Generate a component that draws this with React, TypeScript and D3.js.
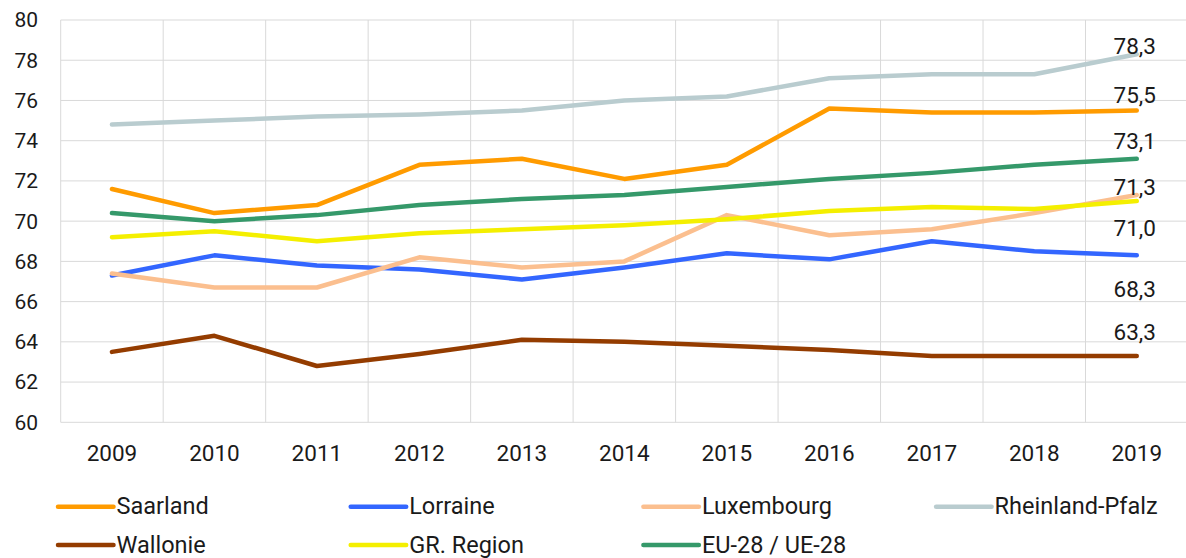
import React from "react";
import { scaleBand, scaleLinear, line } from "d3";

const years = ["2009", "2010", "2011", "2012", "2013", "2014", "2015", "2016", "2017", "2018", "2019"];
const yTicks = [60, 62, 64, 66, 68, 70, 72, 74, 76, 78, 80];

const saarland = [71.6, 70.4, 70.8, 72.8, 73.1, 72.1, 72.8, 75.6, 75.4, 75.4, 75.5];
const lorraine = [67.3, 68.3, 67.8, 67.6, 67.1, 67.7, 68.4, 68.1, 69.0, 68.5, 68.3];
const luxembourg = [67.4, 66.7, 66.7, 68.2, 67.7, 68.0, 70.3, 69.3, 69.6, 70.4, 71.3];
const rheinlandPfalz = [74.8, 75.0, 75.2, 75.3, 75.5, 76.0, 76.2, 77.1, 77.3, 77.3, 78.3];
const wallonie = [63.5, 64.3, 62.8, 63.4, 64.1, 64.0, 63.8, 63.6, 63.3, 63.3, 63.3];
const grRegion = [69.2, 69.5, 69.0, 69.4, 69.6, 69.8, 70.1, 70.5, 70.7, 70.6, 71.0];
const eu28 = [70.4, 70.0, 70.3, 70.8, 71.1, 71.3, 71.7, 72.1, 72.4, 72.8, 73.1];

// dy: where the last-value label sits relative to the end point (Excel labels were moved by hand)
const series = [
  { name: "Saarland", values: saarland, color: "#FF9B00", dy: -7.5 },
  { name: "Lorraine", values: lorraine, color: "#3366FF", dy: 42 },
  { name: "Luxembourg", values: luxembourg, color: "#FBBF8F", dy: 0 },
  { name: "Rheinland-Pfalz", values: rheinlandPfalz, color: "#B9CCCF", dy: 0 },
  { name: "Wallonie", values: wallonie, color: "#943C00", dy: -16 },
  { name: "GR. Region", values: grRegion, color: "#F4EF00", dy: 35 },
  { name: "EU-28 / UE-28", values: eu28, color: "#35996A", dy: -10 },
];

const W = 1186;
const H = 558;
const font = "Roboto, 'Noto Sans', sans-serif";

export default function App() {
  const x = scaleBand().domain(years).range([60.7, 1188]);
  const y = scaleLinear().domain([60, 80]).range([422.3, 20]);
  const cx = (yr: string) => (x(yr) ?? 0) + x.bandwidth() / 2;

  const path = line<number>()
    .x((_, i) => cx(years[i]))
    .y((d) => y(d));

  return (
    <svg width={W} height={H} style={{ position: "fixed", left: 0, top: 0, background: "#fff" }} fontFamily={font}>
      {/* grid */}
      {yTicks.map((t) => (
        <line key={"h" + t} x1={60.7} x2={1188} y1={y(t)} y2={y(t)} stroke="#D9D9D9" strokeWidth={1} />
      ))}
      {years.map((yr) => (
        <line key={"v" + yr} x1={x(yr)} x2={x(yr)} y1={20} y2={422.3} stroke="#D9D9D9" strokeWidth={1} />
      ))}
      <line x1={1187.5} x2={1187.5} y1={20} y2={422.3} stroke="#D9D9D9" />

      {/* y ticks */}
      {yTicks.map((t) => (
        <text key={"yt" + t} x={38} y={y(t)} dy="0.35em" textAnchor="end" fontSize={21} fill="#1a1a1a">
          {t}
        </text>
      ))}
      {/* x ticks */}
      {years.map((yr) => (
        <text key={"xt" + yr} x={cx(yr)} y={461} textAnchor="middle" fontSize={22.5} fill="#1a1a1a">
          {yr}
        </text>
      ))}

      {/* lines */}
      {series.map((s) => (
        <path
          key={s.name}
          d={path(s.values) ?? ""}
          fill="none"
          stroke={s.color}
          strokeWidth={4.5}
          strokeLinecap="round"
          strokeLinejoin="round"
        />
      ))}

      {/* last value labels */}
      {series.map((s) => {
        const v = s.values[s.values.length - 1];
        return (
          <text
            key={"lab" + s.name}
            x={cx(years[years.length - 1]) - 2}
            y={y(v) + s.dy}
            textAnchor="middle"
            fontSize={22.5}
            fill="#1a1a1a"
          >
            {v.toFixed(1).replace(".", ",")}
          </text>
        );
      })}

      {/* legend */}
      {series.map((s, i) => {
        const lx = 58 + (i % 4) * 292.7;
        const ly = i < 4 ? 506.7 : 545;
        return (
          <g key={"lg" + s.name}>
            <line x1={lx} x2={lx + 55.5} y1={ly} y2={ly} stroke={s.color} strokeWidth={4.5} strokeLinecap="round" />
            <text x={lx + 58.5} y={ly} dy="0.33em" fontSize={23.5} fill="#1a1a1a">
              {s.name}
            </text>
          </g>
        );
      })}
    </svg>
  );
}
